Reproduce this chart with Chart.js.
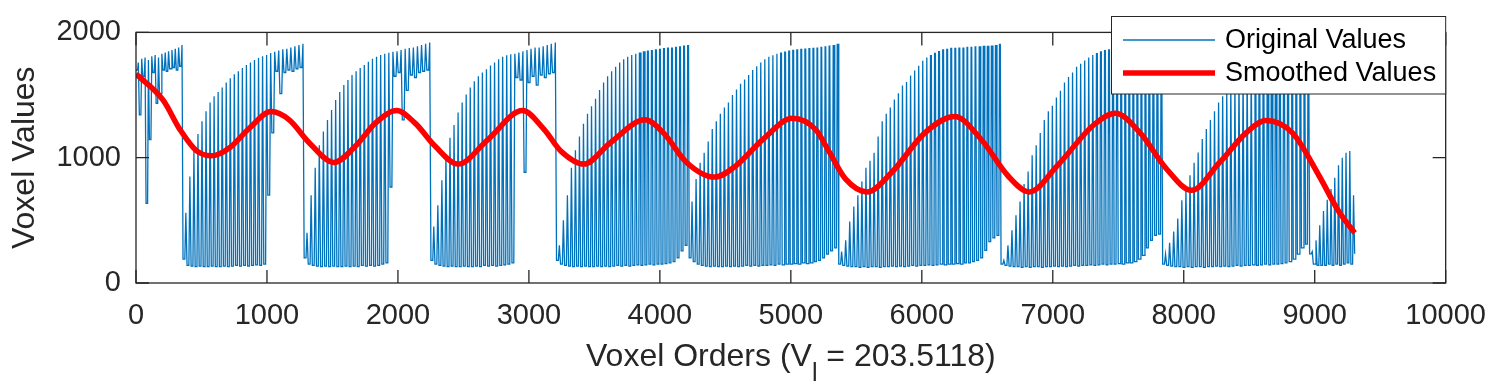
<!DOCTYPE html>
<html>
<head>
<meta charset="utf-8">
<script src="https://cdn.jsdelivr.net/npm/chart.js@4.4.1/dist/chart.umd.min.js"></script>
<style>
    html, body { margin: 0; padding: 0; background: #fff; }
</style>
</head>
<body>
<canvas id="graficoVoxel" width="1502" height="390"></canvas>
<script>
// ==================== DATOS ====================
// Cada bloque es un barrido de "dientes": valle -> pico
const inicioBloques = [0, 359, 1284, 2252, 3211, 4224, 5366, 6605, 7839, 8961];
const finBloques = [359, 1284, 2252, 3211, 4224, 5366, 6605, 7839, 8961, 9305];
const valorFinal = 233;

const picosBloques = [
    [1760, 1790, 1800, 1780, 1810, 1820, 1800, 1830, 1840, 1850, 1860, 1870, 1880, 1900],
    [560, 850, 1060, 1190, 1290, 1370, 1440, 1490, 1525, 1560, 1600, 1635, 1665, 1690, 1715, 1740, 1760, 1780, 1795, 1810, 1820, 1835, 1845, 1855, 1865, 1870, 1880, 1890, 1900, 1910],
    [400, 700, 920, 1100, 1210, 1300, 1380, 1460, 1525, 1580, 1620, 1660, 1690, 1715, 1740, 1765, 1790, 1805, 1820, 1830, 1838, 1845, 1850, 1860, 1870, 1875, 1880, 1890, 1900, 1910, 1920],
    [450, 620, 820, 1030, 1160, 1260, 1360, 1440, 1505, 1560, 1610, 1650, 1680, 1705, 1735, 1760, 1785, 1805, 1818, 1825, 1830, 1840, 1850, 1860, 1870, 1880, 1880, 1890, 1900, 1910, 1920],
    [300, 500, 700, 920, 1060, 1170, 1270, 1350, 1410, 1470, 1540, 1600, 1650, 1690, 1725, 1760, 1785, 1805, 1820, 1830, 1840, 1850, 1855, 1860, 1865, 1870, 1875, 1880, 1880, 1885, 1890, 1895, 1900],
    [650, 830, 960, 1040, 1130, 1230, 1290, 1350, 1400, 1440, 1500, 1545, 1590, 1625, 1660, 1700, 1730, 1760, 1785, 1805, 1818, 1830, 1840, 1848, 1855, 1862, 1865, 1870, 1872, 1875, 1878, 1880, 1885, 1890, 1895, 1900, 1910],
    [250, 340, 490, 610, 700, 810, 920, 975, 1040, 1170, 1290, 1350, 1400, 1465, 1515, 1577, 1605, 1655, 1695, 1733, 1773, 1799, 1820, 1838, 1852, 1865, 1870, 1878, 1878, 1880, 1880, 1886, 1886, 1890, 1890, 1894, 1894, 1896, 1900, 1910],
    [180, 300, 420, 540, 650, 790, 890, 1020, 1100, 1198, 1300, 1370, 1415, 1480, 1535, 1600, 1645, 1680, 1725, 1750, 1775, 1800, 1820, 1835, 1850, 1860, 1865, 1870, 1875, 1880, 1880, 1885, 1885, 1890, 1890, 1895, 1895, 1900, 1900, 1910],
    [230, 320, 410, 515, 660, 750, 860, 960, 1041, 1150, 1230, 1300, 1370, 1440, 1490, 1540, 1590, 1630, 1670, 1700, 1730, 1760, 1780, 1800, 1815, 1830, 1840, 1850, 1855, 1860, 1865, 1870, 1875, 1880, 1885, 1890],
    [250, 340, 460, 575, 665, 750, 840, 940, 1000, 1040, 1054, 700]
];

const vallesBloques = [
    [1700, 1341, 1650, 635, 1145, 1680, 1433, 1511, 1700, 1690, 1710, 1720, 1700, 1730],
    [190, 140, 135, 130, 135, 130, 130, 135, 130, 130, 135, 130, 135, 140, 135, 140, 135, 140, 145, 140, 150, 702, 1198, 1690, 1511, 1680, 1700, 1690, 1710, 1720],
    [200, 150, 140, 135, 130, 135, 130, 135, 130, 130, 135, 130, 135, 130, 140, 135, 140, 135, 140, 150, 160, 766, 1650, 1680, 1302, 1537, 1660, 1640, 1680, 1690, 1700],
    [180, 150, 140, 135, 130, 135, 130, 130, 135, 130, 130, 135, 130, 140, 135, 140, 135, 140, 145, 150, 160, 1640, 1620, 884, 1600, 1650, 1580, 1660, 1640, 1670, 1680],
    [180, 150, 140, 135, 130, 135, 130, 135, 130, 130, 135, 130, 135, 130, 135, 140, 135, 140, 135, 140, 145, 140, 145, 150, 145, 150, 150, 155, 160, 170, 200, 256, 300],
    [200, 170, 150, 140, 135, 130, 135, 130, 130, 135, 130, 135, 130, 135, 140, 135, 140, 135, 140, 140, 145, 140, 150, 145, 150, 150, 155, 150, 160, 155, 160, 170, 180, 200, 230, 256, 280],
    [150, 140, 135, 130, 130, 125, 130, 125, 130, 130, 125, 130, 130, 135, 130, 135, 130, 135, 140, 135, 140, 140, 145, 140, 145, 150, 145, 150, 150, 155, 150, 160, 160, 170, 180, 200, 260, 330, 360, 380],
    [150, 140, 135, 130, 130, 125, 130, 125, 130, 130, 125, 130, 130, 135, 130, 135, 130, 135, 140, 135, 140, 140, 145, 140, 145, 150, 145, 150, 150, 155, 150, 160, 160, 170, 190, 220, 280, 340, 380, 390],
    [150, 140, 135, 130, 130, 125, 130, 125, 130, 130, 125, 130, 130, 135, 130, 135, 130, 135, 140, 135, 140, 140, 145, 140, 145, 150, 145, 150, 150, 155, 160, 170, 190, 230, 280, 311],
    [233, 150, 140, 140, 140, 150, 140, 150, 140, 150, 160, 150]
];

// muescas en la cima de los dientes (desde el diente indicado)
const inicioMuescas = [-1, -1, -1, -1, 20, 22, 22, 23, 22, -1];
const muescasBloques = [
    [], [], [], [],
    [1680, 1650, 1700, 1640, 1690, 1660, 1700, 1650, 1680, 1690, 1670, 1700, 1720],
    [1660, 1690, 1640, 1700, 1670, 1650, 1690, 1680, 1700, 1660, 1690, 1710, 1680, 1700, 1720],
    [1680, 1650, 1700, 1660, 1690, 1640, 1700, 1680, 1660, 1700, 1690, 1670, 1700, 1680, 1710, 1690, 1720, 1700],
    [1660, 1690, 1650, 1700, 1670, 1690, 1650, 1700, 1680, 1660, 1700, 1690, 1700, 1680, 1710, 1690, 1720],
    [1660, 1690, 1650, 1700, 1670, 1690, 1650, 1700, 1680, 1660, 1700, 1690, 1710, 1720],
    []
];

// curva suavizada
const suaveX = [0, 207, 336, 463, 576, 715, 867, 1031, 1170, 1322, 1511, 1676, 1828, 1991, 2131, 2283, 2459, 2687, 2952, 3117, 3243, 3420, 3622, 3888, 4027, 4204, 4418, 4582, 4785, 5013, 5190, 5291, 5417, 5582, 5771, 6023, 6251, 6454, 6656, 6820, 7035, 7314, 7478, 7667, 7869, 8059, 8274, 8476, 8627, 8830, 9032, 9184, 9305];
const suaveY = [1668, 1459, 1224, 1054, 1015, 1080, 1237, 1368, 1302, 1120, 962, 1093, 1276, 1376, 1276, 1093, 949, 1145, 1376, 1224, 1054, 949, 1120, 1302, 1198, 962, 845, 937, 1145, 1315, 1224, 1050, 831, 727, 884, 1198, 1329, 1145, 858, 727, 937, 1263, 1355, 1198, 910, 740, 962, 1198, 1297, 1198, 858, 570, 400];

const ticksX = [0, 1000, 2000, 3000, 4000, 5000, 6000, 7000, 8000, 9000, 10000];
const ticksY = [0, 1000, 2000];

const etiquetas = ["Original Values", "Smoothed Values"];
const tituloY = "Voxel Values";
const tituloX = ["Voxel Orders (V", "l", " = 203.5118)"];

// ==================== SERIES ====================
function construirOriginal() {
    const puntos = [];
    inicioBloques.forEach((inicio, b) => {
        const picos = picosBloques[b];
        const valles = vallesBloques[b];
        const paso = (finBloques[b] - inicio) / picos.length;
        picos.forEach((pico, k) => {
            const x0 = inicio + k * paso;
            // fondo del diente y subida rapida al pico
            puntos.push({ x: x0, y: valles[k] });
            puntos.push({ x: x0 + paso * 0.45, y: valles[k] });
            const m = inicioMuescas[b] >= 0 && k >= inicioMuescas[b] ? muescasBloques[b][k - inicioMuescas[b]] : null;
            if (m) {
                puntos.push({ x: x0 + paso * 0.62, y: pico });
                puntos.push({ x: x0 + paso * 0.72, y: m });
                puntos.push({ x: x0 + paso * 0.82, y: pico });
            } else {
                puntos.push({ x: x0 + paso * 0.7, y: pico });
            }
        });
    });
    puntos.push({ x: finBloques[finBloques.length - 1], y: valorFinal });
    return puntos;
}

const original = construirOriginal();
const suavizado = suaveX.map((x, i) => ({ x: x, y: suaveY[i] }));

const AZUL = "#0072BD";
const ROJO = "#FF0000";
const GRIS = "#262626";
const FUENTE = "'Liberation Sans', Arial, Helvetica, sans-serif";

// marco, ticks hacia dentro, leyenda y titulo X con subindice
const decoraciones = {
    id: "decoraciones",
    afterDraw(chart) {
        const ctx = chart.ctx;
        const a = chart.chartArea;
        const sx = chart.scales.x;
        const sy = chart.scales.y;
        const largo = 13;

        ctx.save();
        ctx.strokeStyle = GRIS;
        ctx.lineWidth = 1.3;
        ctx.strokeRect(a.left, a.top, a.right - a.left, a.bottom - a.top);
        ctx.beginPath();
        ticksX.forEach(v => {
            const px = sx.getPixelForValue(v);
            ctx.moveTo(px, a.bottom); ctx.lineTo(px, a.bottom - largo);
            ctx.moveTo(px, a.top); ctx.lineTo(px, a.top + largo);
        });
        ticksY.forEach(v => {
            const py = sy.getPixelForValue(v);
            ctx.moveTo(a.left, py); ctx.lineTo(a.left + largo, py);
            ctx.moveTo(a.right, py); ctx.lineTo(a.right - largo, py);
        });
        ctx.stroke();

        // titulo eje X
        const cx = (a.left + a.right) / 2;
        const base = 366;
        ctx.fillStyle = GRIS;
        ctx.textBaseline = "alphabetic";
        ctx.textAlign = "left";
        ctx.font = "32px " + FUENTE;
        const w1 = ctx.measureText(tituloX[0]).width;
        const w3 = ctx.measureText(tituloX[2]).width;
        ctx.font = "25px " + FUENTE;
        const w2 = ctx.measureText(tituloX[1]).width;
        let x = cx - (w1 + w2 + w3) / 2;
        ctx.font = "32px " + FUENTE;
        ctx.fillText(tituloX[0], x, base);
        x += w1;
        ctx.font = "25px " + FUENTE;
        ctx.fillText(tituloX[1], x, base + 15);
        x += w2;
        ctx.font = "32px " + FUENTE;
        ctx.fillText(tituloX[2], x, base);

        // leyenda
        const L = { x: 1111.5, y: 16.5, w: a.right - 1111.5, h: 77.5 };
        ctx.fillStyle = "#fff";
        ctx.fillRect(L.x, L.y, L.w, L.h);
        ctx.lineWidth = 1;
        ctx.strokeStyle = GRIS;
        ctx.strokeRect(L.x, L.y, L.w, L.h);
        const filas = [
            { y: 40, color: AZUL, ancho: 1.3 },
            { y: 73, color: ROJO, ancho: 5.5 }
        ];
        ctx.font = "27px " + FUENTE;
        ctx.textBaseline = "middle";
        filas.forEach((f, i) => {
            ctx.beginPath();
            ctx.strokeStyle = f.color;
            ctx.lineWidth = f.ancho;
            ctx.moveTo(1123, f.y);
            ctx.lineTo(1215, f.y);
            ctx.stroke();
            ctx.fillStyle = "#000";
            ctx.fillText(etiquetas[i], 1225, f.y + 1);
        });
        ctx.restore();
    }
};

new Chart(document.getElementById("graficoVoxel"), {
    type: "line",
    data: {
        datasets: [
            {
                label: etiquetas[0],
                data: original,
                borderColor: AZUL,
                borderWidth: 1.3,
                pointRadius: 0,
                tension: 0,
                order: 1
            },
            {
                label: etiquetas[1],
                data: suavizado,
                borderColor: ROJO,
                borderWidth: 5.5,
                pointRadius: 0,
                cubicInterpolationMode: "monotone",
                order: 0
            }
        ]
    },
    options: {
        responsive: false,
        animation: false,
        devicePixelRatio: 1,
        layout: { padding: { left: 0, right: 48, top: 28, bottom: 0 } },
        plugins: {
            legend: { display: false },
            tooltip: { enabled: false }
        },
        scales: {
            x: {
                type: "linear",
                min: 0,
                max: 10000,
                afterBuildTicks: s => { s.ticks = ticksX.map(v => ({ value: v })); },
                ticks: {
                    padding: 16,
                    color: GRIS,
                    maxRotation: 0,
                    autoSkip: false,
                    font: { family: FUENTE, size: 29 },
                    callback: v => String(v)
                },
                grid: { display: false, drawTicks: false },
                border: { display: false },
                afterFit: s => { s.height = 107; }
            },
            y: {
                min: 0,
                max: 2000,
                afterBuildTicks: s => { s.ticks = ticksY.map(v => ({ value: v })); },
                ticks: {
                    padding: 15,
                    color: GRIS,
                    font: { family: FUENTE, size: 29 },
                    callback: v => String(v)
                },
                grid: { display: false, drawTicks: false },
                border: { display: false },
                title: {
                    display: true,
                    text: tituloY,
                    color: GRIS,
                    font: { family: FUENTE, size: 32 },
                    padding: { top: 6, bottom: 0 }
                },
                afterFit: s => { s.width = 136; }
            }
        }
    },
    plugins: [decoraciones]
});
</script>
</body>
</html>
